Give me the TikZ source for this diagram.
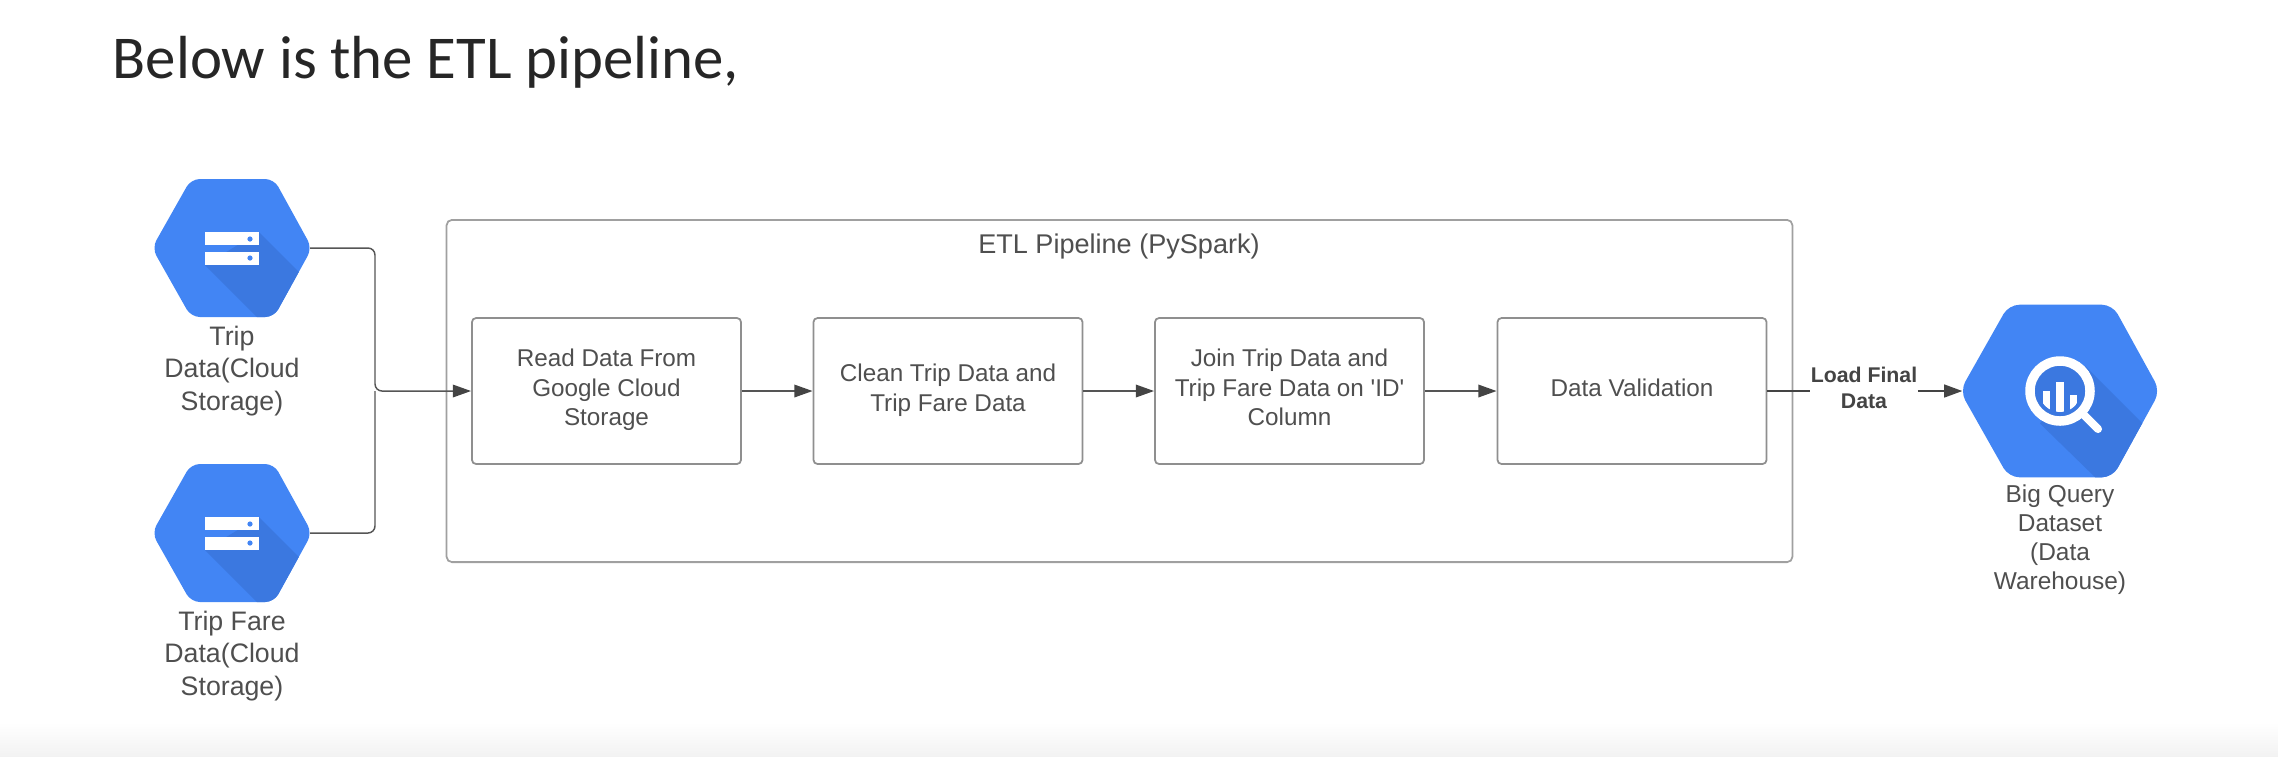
\documentclass[tikz,border=0pt]{standalone}
\usepackage{fontspec}
\setmainfont{Liberation Sans}
\newfontfamily\titlefont{Carlito}
\usepackage{xcolor}
\usetikzlibrary{arrows.meta}
\usetikzlibrary{positioning}

\definecolor{gcpblue}{HTML}{4285F4}
\definecolor{gcpshade}{HTML}{3B78E0}
\definecolor{inktext}{HTML}{4F4F4F}
\definecolor{boxline}{HTML}{8F8F8F}
\definecolor{frameline}{HTML}{A0A0A0}
\definecolor{flowline}{HTML}{555555}

% hexagon outline, 156 wide and 138 high before scaling
\newcommand{\hexoutline}{(-80,0) -- (-41,-69) -- (42,-69) -- (80,0) -- (42,69) -- (-41,69) -- cycle}

\tikzset{
	stepbox/.style={draw=boxline, line width=0.5pt, rounded corners=1.2pt, minimum width=2.69cm, minimum height=1.46cm, inner sep=0pt, align=center, text=inktext, text depth=2pt, font=\fontsize{6.9}{8.4}\selectfont},
	hexnode/.style={inner sep=0pt, outer sep=0pt, minimum width=1.56cm, minimum height=1.38cm},
	biglabel/.style={align=center, text=inktext, font=\fontsize{7.6}{9.25}\selectfont},
	flow/.style={draw=flowline, line width=0.42pt, -{Triangle[length=5.2pt,width=3.6pt,color=flowline!80!black]}}
}

\begin{document}
\begin{tikzpicture}[x=0.01cm, y=-0.01cm]
	\useasboundingbox (0,0) rectangle (2278,756);
	% grey fade along the bottom
	\shade[top color=white, bottom color=black!5] (0,722) rectangle (2278,756);

	\node[anchor=base west, inner sep=0pt, text=black!85, font=\titlefont\fontsize{17.3}{20}\selectfont] (title) at (112,78) {Below is the ETL pipeline,};

	% ETL frame
	\node[draw=frameline, line width=0.5pt, rounded corners=1.5pt, minimum width=13.45cm, minimum height=3.42cm, inner sep=0pt] (frame) at (1119.5,391) {};
	\node[text=inktext, font=\fontsize{7.7}{9}\selectfont] (frametitle) at (1119,246) {ETL Pipeline (PySpark)};

	% pipeline steps
	\node[stepbox] (read) at (606.5,391) {Read Data From\\Google Cloud\\Storage};
	\node[stepbox] (clean) at (948,391) {Clean Trip Data and\\Trip Fare Data};
	\node[stepbox] (join) at (1289.5,391) {Join Trip Data and\\Trip Fare Data on \textquotesingle ID\textquotesingle\\Column};
	\node[stepbox] (valid) at (1632,391) {Data Validation};

	% storage hexagons
	\foreach \hname/\hy in {trip/248, fare/533} {
			\node[hexnode] (\hname) at (232,\hy) {};
			\begin{scope}[shift={(232,\hy)}]
				\fill[gcpblue, rounded corners=2.5pt] \hexoutline;
				\begin{scope}
					\clip[rounded corners=2.5pt] \hexoutline;
					\fill[gcpshade] (27,-16) -- (120,77) -- (59,103) -- (-27,17) -- cycle;
				\end{scope}
				\foreach \ry/\dy in {-16/-9, 4/10} {
						\fill[white] (-27,\ry) rectangle (27,\ry+13);
						\fill[gcpblue] (18,\dy) circle (2.6);
					}
			\end{scope}
		}
	\node[biglabel] (triplabel) at (232,371) {Trip\\Data(Cloud\\Storage)};
	\node[biglabel] (farelabel) at (232,656) {Trip Fare\\Data(Cloud\\Storage)};

	% warehouse hexagon
	\node[hexnode, minimum width=1.95cm, minimum height=1.73cm] (bq) at (2060,391) {};
	\begin{scope}[shift={(2060,391)}]
		\begin{scope}[x=0.0125cm, y=-0.0125cm]
			\fill[gcpblue, rounded corners=3pt] \hexoutline;
			\clip[rounded corners=3pt] \hexoutline;
			\fill[gcpshade] (20,-20) -- (120,80) -- (60,100) -- (-16,26) -- cycle;
		\end{scope}
		\fill[gcpshade] (0,0) circle (27);
		\begin{scope}
			\clip (0,0) circle (21);
			\fill[white] (-4,-9) rectangle (4,30);
			\fill[white] (-17,0) rectangle (-10,30);
			\fill[white] (10,4) rectangle (17,30);
		\end{scope}
		\draw[white, line width=2.7pt] (0,0) circle (30);
		\draw[white, line width=2.3pt, line cap=round] (24,24) -- (38,38);
	\end{scope}
	\node[align=center, text=inktext, font=\fontsize{6.95}{8.25}\selectfont] (bqlabel) at (2060,540) {Big Query\\Dataset\\(Data\\Warehouse)};

	% connectors
	\coordinate (merge) at (375,391);
	\draw[flow, rounded corners=2pt] (trip.east) -| (merge) -- (read.west);
	\draw[draw=flowline, line width=0.42pt, rounded corners=2pt] (fare.east) -| (merge);
	\draw[flow] (read) -- (clean);
	\draw[flow] (clean) -- (join);
	\draw[flow] (join) -- (valid);

	\node[align=center, inner sep=0pt, text=flowline!80!black, font=\bfseries\fontsize{6.05}{7.4}\selectfont] (load) at (1864,388) {Load Final\\Data};
	\draw[draw=flowline!80!black, line width=0.7pt] (valid.east) -- (load.west |- valid.east);
	\draw[flow, draw=flowline!80!black, line width=0.7pt] (load.east |- bq.west) -- (bq.west);
\end{tikzpicture}
\end{document}
